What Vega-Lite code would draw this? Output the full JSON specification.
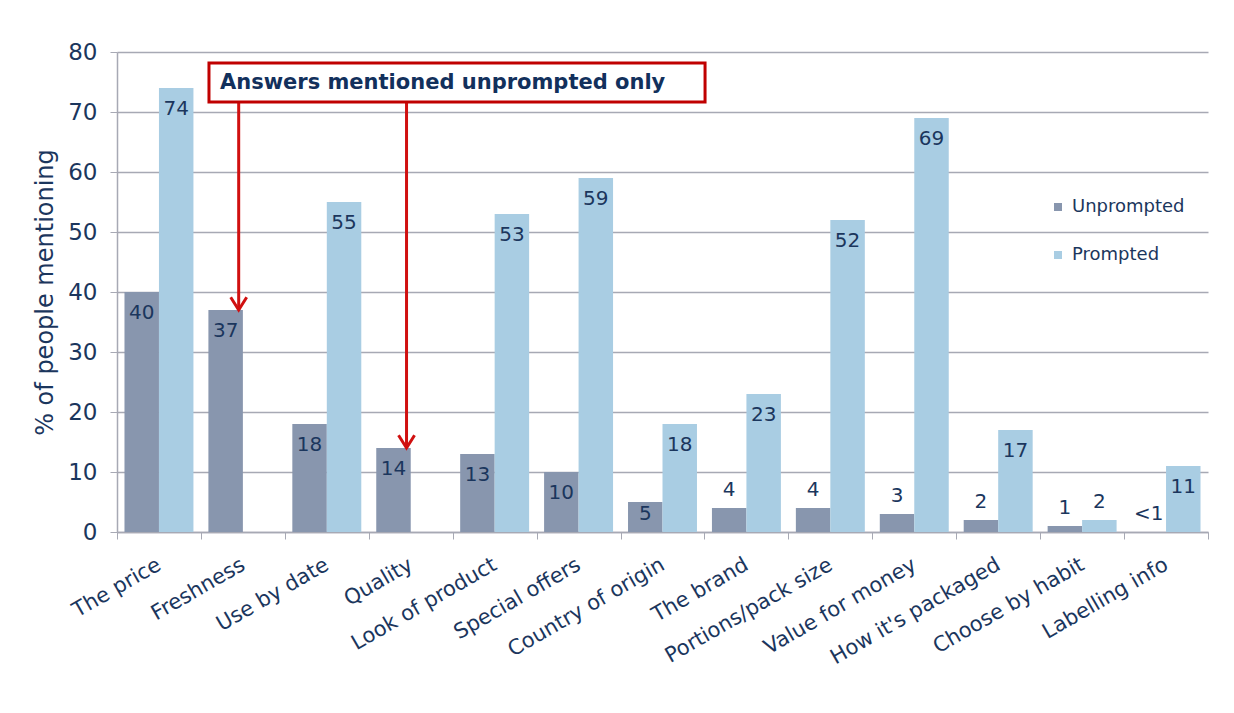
{
  "$schema": "https://vega.github.io/schema/vega-lite/v6.json",
  "width": 1091,
  "height": 480,
  "autosize": "none",
  "padding": {"left": 117, "top": 52, "right": 26, "bottom": 181},
  "background": "white",
  "config": {"view": {"stroke": null}, "font": "DejaVu Sans"},
  "datasets": {
    "bars": [
      {"cat": "The price", "type": "Unprompted", "value": 40, "label": "40"},
      {"cat": "The price", "type": "Prompted", "value": 74, "label": "74"},
      {"cat": "Freshness", "type": "Unprompted", "value": 37, "label": "37"},
      {"cat": "Use by date", "type": "Unprompted", "value": 18, "label": "18"},
      {"cat": "Use by date", "type": "Prompted", "value": 55, "label": "55"},
      {"cat": "Quality", "type": "Unprompted", "value": 14, "label": "14"},
      {"cat": "Look of product", "type": "Unprompted", "value": 13, "label": "13"},
      {"cat": "Look of product", "type": "Prompted", "value": 53, "label": "53"},
      {"cat": "Special offers", "type": "Unprompted", "value": 10, "label": "10"},
      {"cat": "Special offers", "type": "Prompted", "value": 59, "label": "59"},
      {"cat": "Country of origin", "type": "Unprompted", "value": 5, "label": "5"},
      {"cat": "Country of origin", "type": "Prompted", "value": 18, "label": "18"},
      {"cat": "The brand", "type": "Unprompted", "value": 4, "label": "4"},
      {"cat": "The brand", "type": "Prompted", "value": 23, "label": "23"},
      {"cat": "Portions/pack size", "type": "Unprompted", "value": 4, "label": "4"},
      {"cat": "Portions/pack size", "type": "Prompted", "value": 52, "label": "52"},
      {"cat": "Value for money", "type": "Unprompted", "value": 3, "label": "3"},
      {"cat": "Value for money", "type": "Prompted", "value": 69, "label": "69"},
      {"cat": "How it's packaged", "type": "Unprompted", "value": 2, "label": "2"},
      {"cat": "How it's packaged", "type": "Prompted", "value": 17, "label": "17"},
      {"cat": "Choose by habit", "type": "Unprompted", "value": 1, "label": "1"},
      {"cat": "Choose by habit", "type": "Prompted", "value": 2, "label": "2"},
      {"cat": "Labelling info", "type": "Unprompted", "value": 0, "label": "<1"},
      {"cat": "Labelling info", "type": "Prompted", "value": 11, "label": "11"}
    ],
    "note": [
      {"x": 1.096, "x2": 7.007, "y": 78.17, "y2": 71.67, "tx": 3.88, "ty": 74.8, "text": "Answers mentioned unprompted only"}
    ]
  },
  "resolve": {"scale": {"x": "independent", "y": "independent"}},
  "layer": [
    {
      "data": {"name": "bars"},
      "encoding": {
        "x": {
          "field": "cat",
          "type": "nominal",
          "scale": {
            "domain": ["The price", "Freshness", "Use by date", "Quality", "Look of product", "Special offers", "Country of origin", "The brand", "Portions/pack size", "Value for money", "How it's packaged", "Choose by habit", "Labelling info"],
            "paddingInner": 0,
            "paddingOuter": 0
          },
          "axis": {
            "title": null,
            "labelAngle": -30,
            "labelAlign": "right",
            "labelBaseline": "middle",
            "labelFontSize": 21,
            "labelColor": "#1B365D",
            "labelPadding": 24,
            "labelLimit": 0,
            "tickBand": "extent",
            "tickSize": 7,
            "tickColor": "#A7A9B4",
            "domainColor": "#A7A9B4",
            "domainWidth": 1.5,
            "grid": false,
            "labelOverlap": false
          }
        },
        "y": {
          "field": "value",
          "type": "quantitative",
          "scale": {"domain": [0, 80], "nice": false},
          "axis": {
            "title": "% of people mentioning",
            "titleFontSize": 24,
            "titleFontWeight": "normal",
            "titleColor": "#1B365D",
            "titlePadding": 10,
            "labelFontSize": 23,
            "labelColor": "#1B365D",
            "labelPadding": 13,
            "values": [0, 10, 20, 30, 40, 50, 60, 70, 80],
            "tickSize": 7,
            "tickColor": "#A7A9B4",
            "domainColor": "#A7A9B4",
            "domainWidth": 1.5,
            "gridColor": "#A7A9B4",
            "gridWidth": 1.5
          }
        },
        "xOffset": {
          "field": "type",
          "type": "nominal",
          "scale": {"domain": ["Unprompted", "Prompted"], "paddingInner": 0, "paddingOuter": 0.217}
        }
      },
      "layer": [
        {
          "mark": {"type": "bar"},
          "encoding": {
            "color": {
              "field": "type",
              "type": "nominal",
              "scale": {"domain": ["Unprompted", "Prompted"], "range": ["#8896AE", "#A9CDE3"]},
              "legend": {
                "title": null,
                "orient": "none",
                "legendX": 932,
                "legendY": 146,
                "symbolType": "square",
                "symbolSize": 64,
                "symbolStrokeWidth": 0,
                "labelFontSize": 18,
                "labelColor": "#1B365D",
                "labelOffset": 5,
                "rowPadding": 30
              }
            }
          }
        },
        {
          "transform": [{"filter": "datum.value >= 10"}],
          "mark": {"type": "text", "baseline": "middle", "dy": 21, "fontSize": 20, "color": "#1B365D"},
          "encoding": {"text": {"field": "label"}}
        },
        {
          "transform": [{"filter": "datum.value >= 5 && datum.value < 10"}],
          "mark": {"type": "text", "baseline": "middle", "dy": 12, "fontSize": 20, "color": "#1B365D"},
          "encoding": {"text": {"field": "label"}}
        },
        {
          "transform": [{"filter": "datum.value < 5"}],
          "mark": {"type": "text", "baseline": "middle", "dy": -18, "fontSize": 20, "color": "#1B365D"},
          "encoding": {"text": {"field": "label"}}
        },
        {
          "transform": [{"filter": "(datum.cat === 'Freshness' || datum.cat === 'Quality') && datum.type === 'Unprompted'"}],
          "mark": {"type": "rule", "color": "#D01010", "strokeWidth": 3},
          "encoding": {
            "x": {"field": "cat", "type": "nominal", "bandPosition": 0.45},
            "y": {"field": "value", "type": "quantitative"},
            "y2": {"datum": 71.67},
            "xOffset": null
          }
        },
        {
          "transform": [{"filter": "(datum.cat === 'Freshness' || datum.cat === 'Quality') && datum.type === 'Unprompted'"}],
          "mark": {"type": "point", "shape": "M-1,-1.6L0,0L1,-1.6", "size": 256, "filled": false, "stroke": "#D01010", "strokeWidth": 3, "opacity": 1},
          "encoding": {
            "x": {"field": "cat", "type": "nominal", "bandPosition": 0.45},
            "y": {"field": "value", "type": "quantitative"},
            "xOffset": null
          }
        }
      ]
    },
    {
      "data": {"name": "note"},
      "layer": [
        {
          "mark": {"type": "rect", "fill": "white", "stroke": "#C00000", "strokeWidth": 3},
          "encoding": {
            "x": {"field": "x", "type": "quantitative", "scale": {"domain": [0, 13], "nice": false, "zero": false}, "axis": null},
            "x2": {"field": "x2"},
            "y": {"field": "y", "type": "quantitative", "scale": {"domain": [0, 80], "nice": false}, "axis": null},
            "y2": {"field": "y2"}
          }
        },
        {
          "mark": {"type": "text", "fontSize": 21, "fontWeight": "bold", "color": "#12305C", "baseline": "middle", "align": "center"},
          "encoding": {
            "x": {"field": "tx", "type": "quantitative"},
            "y": {"field": "ty", "type": "quantitative"},
            "text": {"field": "text"}
          }
        }
      ]
    }
  ]
}
